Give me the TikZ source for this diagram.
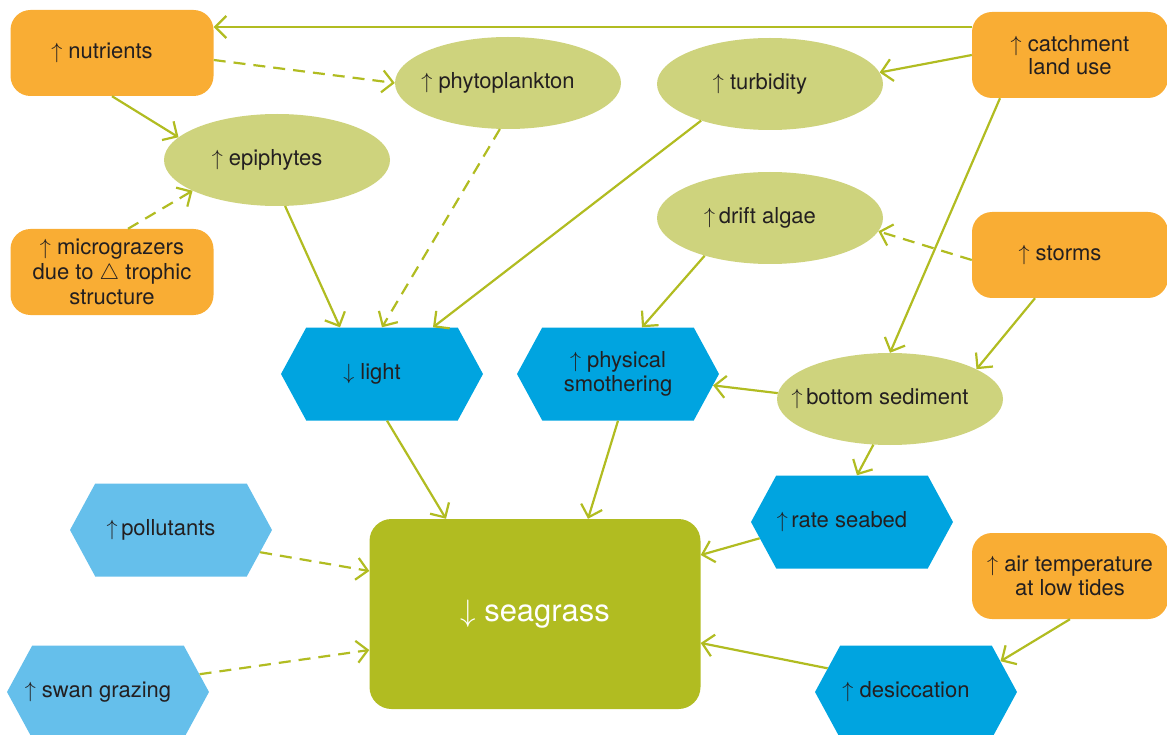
\RequirePackage{fix-cm}
\documentclass[tikz,border=0pt]{standalone}
\usepackage{fontspec}
\setmainfont{TeX Gyre Heros}
\usepackage{tikz}
\usetikzlibrary{arrows.meta, shapes.geometric, shapes.symbols}
\definecolor{driverorange}{HTML}{F9AD34}
\definecolor{ovalgreen}{HTML}{CED37D}
\definecolor{hexblue}{HTML}{00A4E0}
\definecolor{paleblue}{HTML}{65BFEB}
\definecolor{grassgreen}{HTML}{B1BC21}
\definecolor{inkgrey}{HTML}{231F20}
\newcommand\moreof{$\uparrow$}
\newcommand\lessof{$\downarrow$}
\newcommand\dtri{$\triangle$}
\tikzstyle{arrow} = [line width=2.2pt, draw=grassgreen, -{Straight Barb[length=11pt,width=22pt]}]
\tikzstyle{weakarrow} = [arrow, dash pattern=on 12pt off 8pt]
\tikzstyle{leftset} = [execute at end node={\hspace*{20pt}}]
\tikzstyle{driver} = [rectangle, rounded corners=20pt, fill=driverorange, minimum width=203pt, minimum height=86pt, text=inkgrey, align=center, inner sep=0pt]
\tikzstyle{factor} = [ellipse, fill=ovalgreen, minimum width=226pt, minimum height=92pt, text=inkgrey, inner ysep=0pt, inner xsep=-30pt]
\tikzset{
	stressor/.style = {signal, signal to=east and west, signal pointer angle=123,
		fill=hexblue, minimum width=202pt, minimum height=93pt, inner ysep=0pt,
		inner xsep=-14pt, text=inkgrey, align=center},
	minorstressor/.style = {stressor, fill=paleblue},
	outcome/.style = {rectangle, rounded corners=22pt, fill=grassgreen,
		minimum width=331pt, minimum height=190pt, text=white,
		font=\fontsize{31}{34}\selectfont}
}

\begin{document}
\begin{tikzpicture}[x=1pt, y=-1pt, font=\fontsize{22}{23.5}\selectfont]
\useasboundingbox (0,0) rectangle (1167,735);
%----------------------------------------------------------------------------
% Placement of driver nodes
\node (nutrients) [driver, leftset] at (112,53) {\moreof\ nutrients};
\node (micrograzers) [driver, font=\fontsize{22}{25}\selectfont] at (112,272) {\moreof\ micrograzers\\due to \dtri\ trophic\\structure};
\node (catchment) [driver, minimum width=196pt] at (1070,55) {\moreof\ catchment\\land use};
\node (storms) [driver, minimum width=196pt, leftset] at (1070,255) {\moreof\ storms};
\node (airTemp) [driver, minimum width=196pt] at (1070,576) {\moreof\ air temperature\\at low tides};

%----------------------------------------------------------------------------
% Intermediate factors
\node (phytoplankton) [factor, leftset] at (508,83) {\moreof\ phytoplankton};
\node (turbidity) [factor, leftset] at (770,84) {\moreof\ turbidity};
\node (epiphytes) [factor, leftset] at (277,160) {\moreof\ epiphytes};
\node (driftAlgae) [factor, leftset] at (770,218) {\moreof\,drift algae};
\node (sediment) [factor, leftset] at (890,399) {\moreof\,bottom sediment};

%----------------------------------------------------------------------------
% Stressors and outcome
\node (light) [stressor, leftset] at (382,374) {\lessof\ light};
\node (smothering) [stressor] at (618,374) {\moreof\ physical\\smothering};
\node (seabed) [stressor, leftset] at (852,522) {\moreof\,rate seabed};
\node (desiccation) [stressor, leftset] at (916,692) {\moreof\ desiccation};
\node (pollutants) [minorstressor, leftset] at (171,530) {\moreof\,pollutants};
\node (swanGrazing) [minorstressor, leftset] at (108,692) {\moreof\ swan grazing};

\node (seagrass) [outcome] at (535,614) {\lessof\ seagrass};

%----------------------------------------------------------------------------
% Lines
\draw [arrow] ([yshift=28pt]catchment.west) -- ([yshift=26pt]nutrients.east);
\draw [arrow] (catchment.west) -- (turbidity.6);
\draw [arrow] ([xshift=-70pt]catchment.south) -- (sediment.north);
\draw [weakarrow] ([yshift=-7pt]nutrients.east) -- (phytoplankton.west);
\draw [arrow] (nutrients.south) -- (epiphytes.167);
\draw [weakarrow] ([xshift=16pt]micrograzers.north) -- (epiphytes.200);

\draw [arrow] (epiphytes.-80) -- ([xshift=-42pt]light.north);
\draw [weakarrow] (phytoplankton.-100) -- (light.north);
\draw [arrow] (turbidity.208) -- ([xshift=51pt]light.north);
\draw [arrow] (driftAlgae.210) -- ([xshift=24pt]smothering.north);
\draw [weakarrow] ([yshift=-5pt]storms.west) -- (driftAlgae.-7);
\draw [arrow] ([xshift=-35pt]storms.south) -- (sediment.19);
\draw [arrow] (sediment.177) -- (smothering);
\draw [arrow] (sediment.-110) -- ([xshift=5pt]seabed.north);

%----------------------------------------------------------------------------
% Into seagrass
\draw [arrow] ([xshift=5pt]light.south) -- ([xshift=-89pt]seagrass.north);
\draw [arrow] (smothering.south) -- ([xshift=53pt]seagrass.north);
\draw [arrow] (seabed.190) -- ([yshift=59pt]seagrass.east);
\draw [arrow] (desiccation.165) -- ([yshift=-29pt]seagrass.east);
\draw [arrow] (airTemp.south) -- (desiccation.20);
\draw [weakarrow] (pollutants.-14) -- ([yshift=43pt]seagrass.west);
\draw [weakarrow] (swanGrazing.11) -- ([yshift=-36pt]seagrass.west);
\end{tikzpicture}
\end{document}
